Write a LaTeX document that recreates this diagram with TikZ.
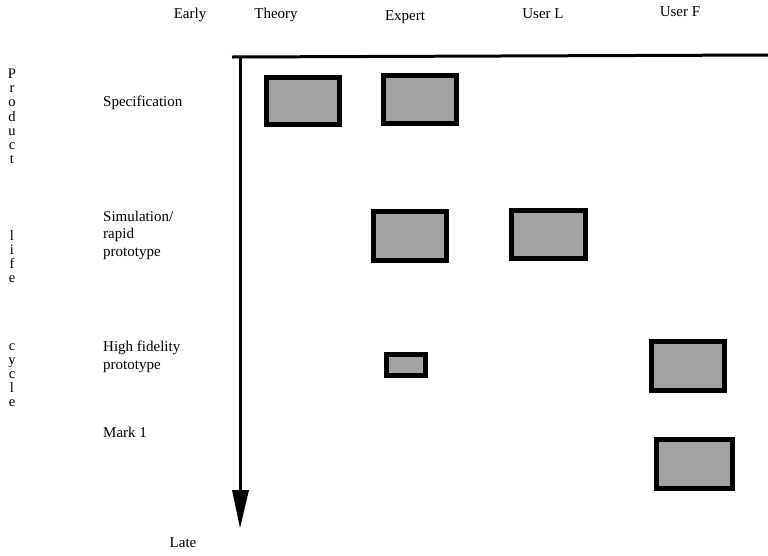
\documentclass[tikz,border=0pt]{standalone}
\usepackage{fontspec}
\setmainfont{Liberation Serif}
\begin{document}
\begin{tikzpicture}[x=1pt,y=-1pt,
  lbl/.style={font=\fontsize{15}{17.5}\selectfont, inner sep=0pt},
  rowlbl/.style={lbl, anchor=west, align=left},
  letter/.style={font=\fontsize{14.5}{15}\selectfont, inner sep=0pt,
    text height=7pt, text depth=1pt},
  cell/.style={draw=black, line width=5pt, fill=black!36},
  axis/.style={line width=3pt}]
\useasboundingbox (0,0) rectangle (768,555);

% column headings
\node[lbl] (early)  at (190,15) {Early};
\node[lbl] (theory) at (276,15) {Theory};
\node[lbl] (expert) at (405,17) {Expert};
\node[lbl] (userl)  at (543,14) {User L};
\node[lbl] (userf)  at (680,12) {User F};

% axes
\coordinate (corner) at (240,57);
\coordinate (right)  at (768,55);
\coordinate (tip)    at (240,528);
\draw[axis] (232,57) -- (right);
\draw[axis] (corner) -- (240,495);
\fill (232,490) -- (249,490) -- (tip) -- cycle;
\node[lbl] (late) at (183,543) {Late};

% row headings
\node[rowlbl] (spec) at (103,103) {Specification};
\node[rowlbl] (sim)  at (103,235) {Simulation/\\rapid\\prototype};
\node[rowlbl] (hifi) at (103,357) {High fidelity\\prototype};
\node[rowlbl] (mark) at (103,432) {Mark 1};

% vertical caption
\foreach \ch/\yy [count=\i] in {P/75,r/89,o/103,d/118,u/132,c/146,t/160,
    l/237,i/251,f/265,e/279,c/347,y/361,c/375,l/389,e/403}
  \node[letter] (cap\i) at (12,\yy) {\ch};

% rated cells
\draw[cell] (266,77) rectangle (339,124);
\draw[cell] (383,75) rectangle (456,123);
\draw[cell] (373,211) rectangle (446,260);
\draw[cell] (511,210) rectangle (585,258);
\draw[cell] (386,354) rectangle (425,375);
\draw[cell] (651,341) rectangle (724,390);
\draw[cell] (656,439) rectangle (732,488);
\end{tikzpicture}
\end{document}
